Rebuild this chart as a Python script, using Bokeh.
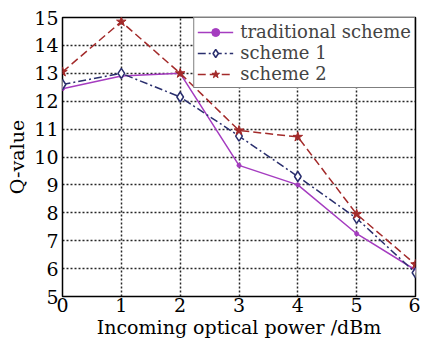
from bokeh.plotting import figure
from bokeh.models import Range1d, Legend, LegendItem, FixedTicker
from bokeh.embed import file_html
from bokeh.resources import INLINE

power = [0, 1, 2, 3, 4, 5, 6]
traditional = [12.45, 12.9, 13.0, 9.7, 9.0, 7.25, 5.95]
scheme1 = [12.6, 13.0, 12.15, 10.75, 9.3, 7.8, 5.85]
scheme2 = [13.05, 14.85, 13.0, 10.95, 10.72, 7.95, 6.15]
x_ticks = [0, 1, 2, 3, 4, 5, 6]
y_ticks = [5, 6, 7, 8, 9, 10, 11, 12, 13, 14, 15]

FONT = "DejaVu Serif"

p = figure(width=420, height=341, output_backend="svg", toolbar_location=None,
           x_range=Range1d(0, 6), y_range=Range1d(5, 15),
           min_border_left=62, min_border_right=5, min_border_top=17, min_border_bottom=45)

p.outline_line_color = "black"
p.outline_line_width = 1.5
p.outline_line_alpha = 1

for ax in (p.xaxis[0], p.yaxis[0]):
    ax.axis_line_color = None
    ax.major_tick_out = 0
    ax.major_tick_in = 0
    ax.minor_tick_line_color = None
    ax.major_label_text_font = FONT
    ax.major_label_text_font_size = "19px"
    ax.major_label_text_color = "black"
    ax.axis_label_text_font = FONT
    ax.axis_label_text_font_style = "normal"
    ax.axis_label_text_font_size = "19px"
    ax.axis_label_text_color = "black"

p.xaxis.ticker = FixedTicker(ticks=x_ticks)
p.yaxis.ticker = FixedTicker(ticks=y_ticks)
p.xaxis.major_label_standoff = 1
p.yaxis.major_label_standoff = 4
p.xaxis.axis_label = "Incoming optical power /dBm"
p.xaxis.axis_label_standoff = 1
p.yaxis.axis_label = "Q-value"
p.yaxis.axis_label_standoff = 3

for g in (p.xgrid[0], p.ygrid[0]):
    g.grid_line_color = "black"
    g.grid_line_dash = "2 2"
    g.grid_line_width = 1.5
    g.grid_line_alpha = 0.85

c_trad = "#a53cc0"
c_s1 = "#2a2f6e"
c_s2 = "#a32a2a"

l1 = p.line(power, traditional, color=c_trad, line_width=1.5)
m1 = p.scatter(power, traditional, marker="circle", size=4, color=c_trad)
l2 = p.line(power, scheme1, color=c_s1, line_width=1.5, line_dash="8 3 2 3")
m2 = p.scatter(power, scheme1, marker="diamond", size=10, line_color=c_s1, fill_color="white", line_width=1.5)
l3 = p.line(power, scheme2, color=c_s2, line_width=1.5, line_dash="8 4")
m3 = p.scatter(power, scheme2, marker="star", size=10, color=c_s2)

legend = Legend(items=[
    LegendItem(label="traditional scheme", renderers=[l1, m1]),
    LegendItem(label="scheme 1", renderers=[l2, m2]),
    LegendItem(label="scheme 2", renderers=[l3, m3]),
], location="top_right")
legend.label_text_font = FONT
legend.label_text_font_size = "18px"
legend.label_height = 20
legend.glyph_height = 20
legend.border_line_color = "black"
legend.border_line_width = 1
legend.background_fill_alpha = 1
legend.margin = 0
legend.padding = 3
legend.spacing = 0
legend.glyph_width = 36
legend.label_standoff = 7
p.add_layout(legend)

open("out.html", "w").write(file_html(p, INLINE))
